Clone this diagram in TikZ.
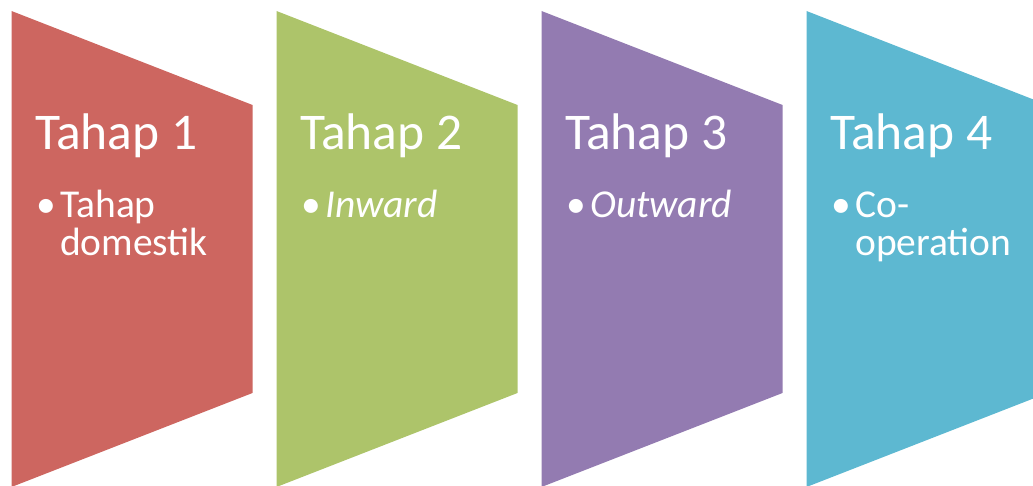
\documentclass[tikz,border=0pt]{standalone}
\usepackage{fontspec}
\setmainfont{Carlito}
\definecolor{tahapred}{RGB}{205,102,96}
\definecolor{tahapgreen}{RGB}{173,196,106}
\definecolor{tahappurple}{RGB}{147,123,177}
\definecolor{tahapcyan}{RGB}{93,184,209}
\begin{document}
\begin{tikzpicture}[x=1pt, y=1pt,
    stage/.style={anchor=base west, text=white, inner sep=0pt, font=\fontsize{51.5}{60}\selectfont},
    point/.style={anchor=base west, text=white, inner sep=0pt, align=left, font=\fontsize{39.5}{38.5}\selectfont}]
    \useasboundingbox (0,0) rectangle (1033,486);
    \clip (0,0) rectangle (1033,486);

    % the four trapezoids
    \foreach \i/\col in {0/tahapred, 1/tahapgreen, 2/tahappurple, 3/tahapcyan} {
        \fill[\col] ({11.5+265*\i},475) -- ++(241,-94) -- ++(0,-288) -- ++(-241,-94) -- cycle;
    }

    \node[stage] at (35,336) (t1) {Tahap 1};
    \node[stage] at (300,336) (t2) {Tahap 2};
    \node[stage] at (565,336) (t3) {Tahap 3};
    \node[stage] at (830,336) (t4) {Tahap 4};

    \node[point] at (36,268.5) (d1) {•};
    \node[point] at (301,268.5) (d2) {•};
    \node[point] at (566,268.5) (d3) {•};
    \node[point] at (831,268.5) (d4) {•};

    % two-line nodes sit on the baseline of their last line
    \node[point] at (60,230) (p1) {Tahap\\domestik};
    \node[point] at (325,268.5) (p2) {\itshape Inward};
    \node[point] at (590,268.5) (p3) {\itshape Outward};
    \node[point] at (855,230) (p4) {Co-\\operation};
\end{tikzpicture}
\end{document}
